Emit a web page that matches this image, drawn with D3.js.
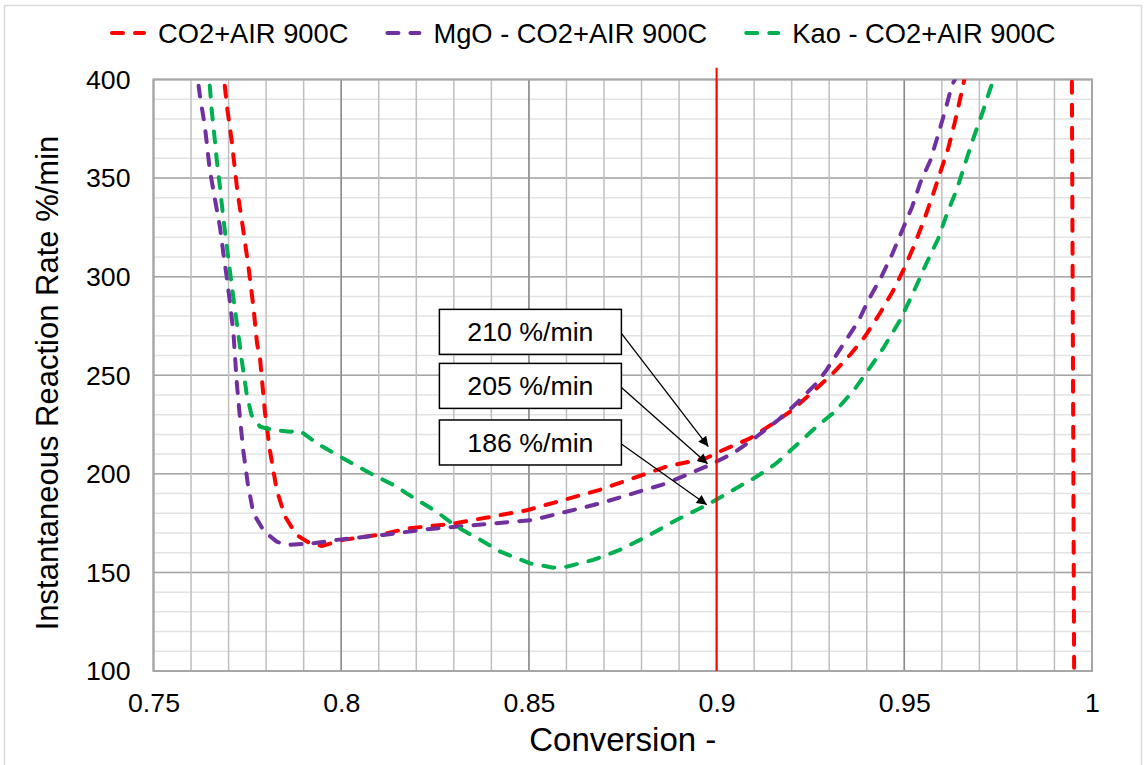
<!DOCTYPE html>
<html>
<head>
<meta charset="utf-8">
<script src="https://cdn.jsdelivr.net/npm/d3@7"></script>
<style>
  body { margin: 0; background: #fff; }
  svg text { font-family: "Liberation Sans", Arial, sans-serif; fill: #000; }
</style>
</head>
<body>
<div id="chart"></div>
<script>
// series names and colours
const seriesNames = ["CO2+AIR 900C", "MgO - CO2+AIR 900C", "Kao - CO2+AIR 900C"];
const seriesColors = ["#ff0000", "#7030a0", "#00b050"];

// CO2+AIR 900C  (conversion, rate) - last points run off the scale (clipped)
const co2Conv = [0.7675, 0.7688, 0.7697, 0.7708, 0.7723, 0.7739, 0.7753, 0.7766, 0.7776, 0.7784, 0.7797, 0.781, 0.7828, 0.785, 0.7881, 0.7917, 0.7948, 0.8005, 0.8111, 0.8174, 0.83, 0.8494, 0.8689, 0.8867, 0.8973, 0.9009, 0.9089, 0.9151, 0.9204, 0.9257, 0.931, 0.9359, 0.9395, 0.9435, 0.9468, 0.9499, 0.9525, 0.9552, 0.9574, 0.9595, 0.9617, 0.9634, 0.9649, 0.966, 0.9675, 0.9944, 0.9956];
const co2Rate = [420, 400, 384.5, 369.3, 344, 323.7, 305, 284.8, 266, 258, 231, 212, 192, 178.5, 169, 164.7, 163.4, 166.5, 169.4, 172.2, 174.8, 181.5, 191.9, 203.7, 208, 211.4, 218, 225.6, 232.7, 241.7, 251, 261.1, 269.6, 281.4, 292.1, 303.9, 315.2, 328.4, 340.3, 352.4, 365.1, 377.8, 390.5, 400, 430, 520, -80];

// MgO - CO2+AIR 900C
const mgoConv = [0.7604, 0.7618, 0.7624, 0.7637, 0.765, 0.7664, 0.7677, 0.7686, 0.7695, 0.7704, 0.7713, 0.7722, 0.773, 0.7739, 0.7751, 0.7766, 0.7794, 0.7828, 0.7855, 0.7919, 0.7988, 0.8112, 0.8228, 0.8511, 0.8689, 0.8867, 0.8982, 0.9044, 0.9106, 0.9164, 0.9213, 0.9266, 0.9293, 0.9377, 0.9405, 0.9437, 0.9468, 0.9494, 0.9521, 0.9543, 0.957, 0.959, 0.961, 0.9627, 0.9635, 0.9655];
const mgoRate = [420, 400, 391.3, 376, 354.1, 338.9, 325.3, 311.9, 300, 286.5, 271.3, 245.9, 229, 212, 195.2, 180, 171, 165.6, 164, 164.6, 166.5, 169, 171.9, 176.6, 185, 195.2, 204.5, 210.4, 218.8, 227.3, 235.8, 245.9, 252.7, 277.2, 288.3, 299.2, 311.5, 323.3, 335.5, 347.9, 359.2, 371.9, 385, 397.2, 400, 420];

// Kao - CO2+AIR 900C
const kaoConv = [0.7633, 0.7646, 0.765, 0.7655, 0.7662, 0.7669, 0.7677, 0.7684, 0.7692, 0.7701, 0.771, 0.7719, 0.7728, 0.7735, 0.7748, 0.7761, 0.7784, 0.7819, 0.7864, 0.789, 0.7935, 0.7997, 0.8077, 0.8148, 0.8174, 0.8254, 0.8307, 0.837, 0.8424, 0.8503, 0.8565, 0.86, 0.8671, 0.8742, 0.8813, 0.8893, 0.8977, 0.9044, 0.9106, 0.9159, 0.9213, 0.9266, 0.9315, 0.9366, 0.9401, 0.9444, 0.9488, 0.9521, 0.9559, 0.959, 0.9614, 0.9641, 0.9663, 0.9685, 0.9707, 0.9728, 0.9738, 0.9748];
const kaoRate = [420, 400, 396.7, 384.5, 371.9, 358.3, 345.6, 333, 320.3, 306.8, 293.2, 280.6, 267.9, 257.7, 240.8, 229.8, 223.9, 222.2, 221.4, 221.8, 215.5, 208.7, 200.3, 193.5, 190.1, 180.8, 173.2, 166.6, 160.5, 154.6, 152.4, 152.9, 156.3, 161.4, 168.1, 176.6, 184.5, 191.8, 198.5, 205.3, 214.6, 223.9, 231.5, 242.5, 251.8, 263.7, 277.7, 290.7, 306.8, 319.1, 332.1, 344.8, 358, 370.7, 382.5, 394.7, 400, 415];

// marker line at conversion 0.9
const markerConv = 0.9;
const markerRate = [100, 406];

// annotations: label, box centre (data units), arrow tip (data units)
const noteLabels = ["210 %/min", "205 %/min", "186 %/min"];
const noteBoxConv = [0.8504, 0.8504, 0.8504];
const noteBoxRate = [272.0, 244.6, 215.9];
const noteTipConv = [0.8978, 0.8976, 0.8974];
const noteTipRate = [213.8, 205.1, 184.3];

// axes
const xTicks = [0.75, 0.8, 0.85, 0.9, 0.95, 1];
const yTicks = [100, 150, 200, 250, 300, 350, 400];

const width = 1147, height = 765;
const margin = { top: 79.5, right: 55, bottom: 94, left: 153.5 };
const w = width - margin.left - margin.right;
const h = height - margin.top - margin.bottom;
const FONT = 26.7;

const svg = d3.select("#chart").append("svg")
  .attr("width", width)
  .attr("height", height);

// outer chart frame
svg.append("rect")
  .attr("x", 4.5).attr("y", 5.5)
  .attr("width", 1137).attr("height", 800)
  .attr("fill", "none").attr("stroke", "#d9d9d9").attr("stroke-width", 1.5);

const xScale = d3.scaleLinear().domain([0.75, 1]).range([0, w]);
const yScale = d3.scaleLinear().domain([100, 400]).range([h, 0]);

const g = svg.append("g").attr("transform", `translate(${margin.left},${margin.top})`);

// grid: minor then major
const xMinor = d3.range(0.75, 1.0001, 0.01).map(d => +d.toFixed(2));
const yMinor = d3.range(100, 401, 10);

g.selectAll(".ym").data(yMinor).enter().append("line")
  .attr("x1", 0).attr("x2", w)
  .attr("y1", d => yScale(d)).attr("y2", d => yScale(d))
  .attr("stroke", "#e3e3e3").attr("stroke-width", 1.5);

g.selectAll(".yM").data(yTicks).enter().append("line")
  .attr("x1", 0).attr("x2", w)
  .attr("y1", d => yScale(d)).attr("y2", d => yScale(d))
  .attr("stroke", "#a6a6a6").attr("stroke-width", 1.5);

g.selectAll(".xm").data(xMinor).enter().append("line")
  .attr("y1", 0).attr("y2", h)
  .attr("x1", d => xScale(d)).attr("x2", d => xScale(d))
  .attr("stroke", "#bfbfbf").attr("stroke-width", 1.5);

g.selectAll(".xM").data(xTicks).enter().append("line")
  .attr("y1", 0).attr("y2", h)
  .attr("x1", d => xScale(d)).attr("x2", d => xScale(d))
  .attr("stroke", "#8c8c8c").attr("stroke-width", 1.5);

g.append("rect")
  .attr("width", w).attr("height", h)
  .attr("fill", "none").attr("stroke", "#a6a6a6").attr("stroke-width", 2);

// axes labels
const xAxis = d3.axisBottom(xScale).tickValues(xTicks).tickSize(0).tickPadding(22)
  .tickFormat(d => String(+d.toFixed(2)));
const yAxis = d3.axisLeft(yScale).tickValues(yTicks).tickSize(0).tickPadding(23);

const xg = g.append("g").attr("transform", `translate(0,${h})`).call(xAxis);
const yg = g.append("g").call(yAxis);
[xg, yg].forEach(a => {
  a.select(".domain").remove();
  a.selectAll("text").style("font-size", FONT + "px").attr("fill", "#000");
});
yg.selectAll("text").attr("dy", "0.33em");

// clip for the series
svg.append("defs").append("clipPath").attr("id", "plotClip")
  .append("rect").attr("width", w).attr("height", h);

const line = d3.line().x(d => xScale(d[0])).y(d => yScale(d[1]));
const series = [
  d3.zip(co2Conv, co2Rate),
  d3.zip(mgoConv, mgoRate),
  d3.zip(kaoConv, kaoRate)
];

const plot = g.append("g").attr("clip-path", "url(#plotClip)");
series.forEach((pts, i) => {
  plot.append("path")
    .datum(pts)
    .attr("fill", "none")
    .attr("stroke", seriesColors[i])
    .attr("stroke-width", 4)
    .attr("stroke-linecap", "round")
    .attr("stroke-linejoin", "round")
    .attr("stroke-dasharray", "11,12")
    .attr("d", line);
});

// red marker at 0.9 (drawn a little above the plot top, as in the original)
g.append("line")
  .attr("x1", xScale(markerConv)).attr("x2", xScale(markerConv))
  .attr("y1", yScale(markerRate[0])).attr("y2", yScale(markerRate[1]))
  .attr("stroke", "#ff0000").attr("stroke-width", 2);

// arrowhead
svg.select("defs").append("marker")
  .attr("id", "arrow")
  .attr("viewBox", "0 0 10 10")
  .attr("refX", 10).attr("refY", 5)
  .attr("markerWidth", 13).attr("markerHeight", 10)
  .attr("markerUnits", "userSpaceOnUse")
  .attr("orient", "auto")
  .append("path").attr("d", "M0,0 L10,5 L0,10 z").attr("fill", "#000");

const boxW = 182, boxH = 45;
noteLabels.forEach((label, i) => {
  const cx = xScale(noteBoxConv[i]), cy = yScale(noteBoxRate[i]);
  g.append("line")
    .attr("x1", cx + boxW / 2).attr("y1", cy + 1.5)
    .attr("x2", xScale(noteTipConv[i])).attr("y2", yScale(noteTipRate[i]))
    .attr("stroke", "#000").attr("stroke-width", 1.3)
    .attr("marker-end", "url(#arrow)");
  g.append("rect")
    .attr("x", cx - boxW / 2).attr("y", cy - boxH / 2)
    .attr("width", boxW).attr("height", boxH)
    .attr("fill", "#fff").attr("stroke", "#000").attr("stroke-width", 1.5);
  g.append("text")
    .attr("x", cx).attr("y", cy + 9.5)
    .attr("text-anchor", "middle")
    .style("font-size", FONT + "px")
    .text(label);
});

// axis titles
svg.append("text")
  .attr("x", margin.left + w / 2).attr("y", 751)
  .attr("text-anchor", "middle")
  .style("font-size", "33px")
  .text("Conversion -");

svg.append("text")
  .attr("transform", "translate(58,383) rotate(-90)")
  .attr("text-anchor", "middle")
  .style("font-size", "31px")
  .text("Instantaneous Reaction Rate %/min");

// legend
let lx = 110;
seriesNames.forEach((name, i) => {
  const item = svg.append("g").attr("transform", `translate(${lx},33)`);
  item.append("line")
    .attr("x1", 2).attr("x2", 34).attr("y1", 0).attr("y2", 0)
    .attr("stroke", seriesColors[i]).attr("stroke-width", 4)
    .attr("stroke-linecap", "round").attr("stroke-dasharray", "11,12");
  const t = item.append("text")
    .attr("x", 48).attr("y", 10)
    .style("font-size", "27.3px")
    .text(name);
  lx += 48 + t.node().getComputedTextLength() + 37;
});
</script>
</body>
</html>
